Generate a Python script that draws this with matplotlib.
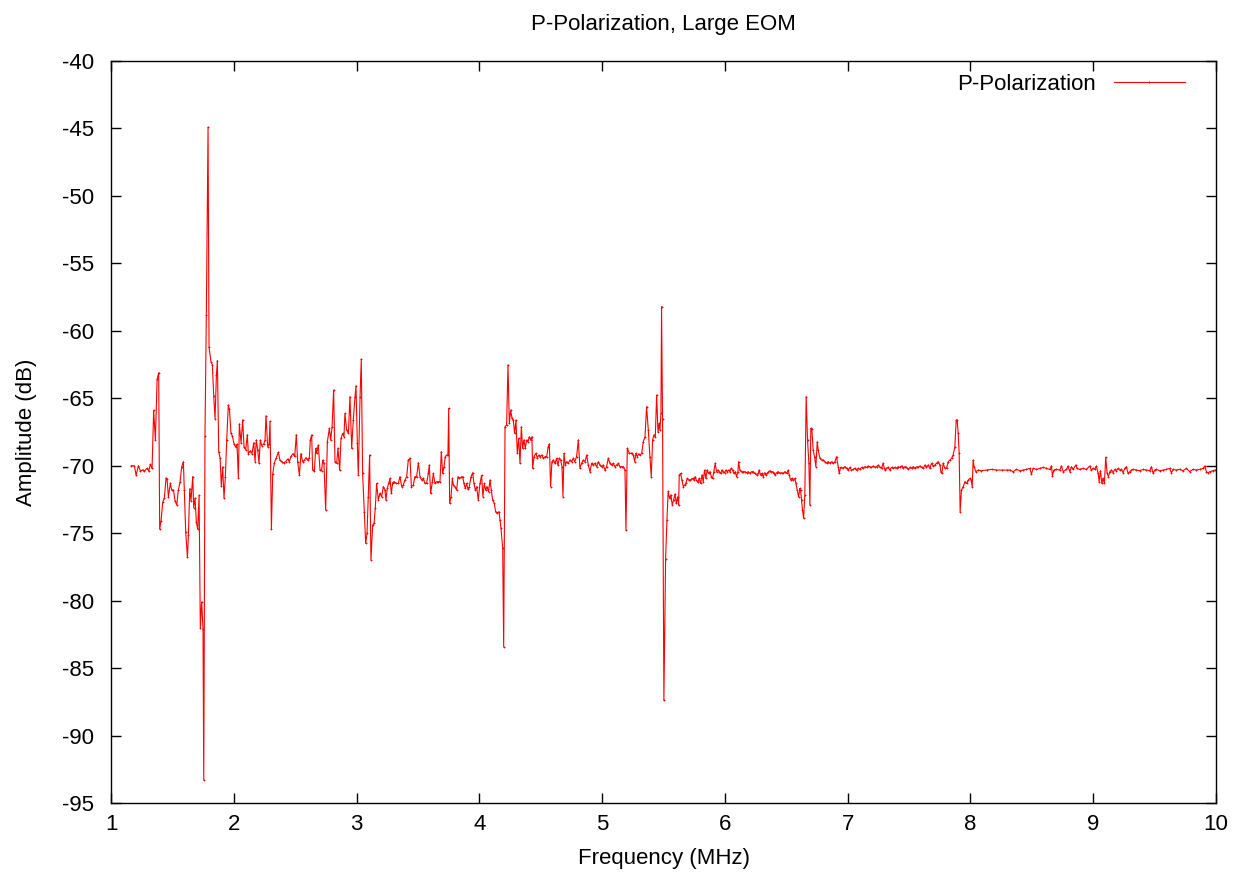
import matplotlib
matplotlib.use('Agg')
import matplotlib.pyplot as plt

plt.rcParams['font.family'] = ['Liberation Sans', 'DejaVu Sans']
plt.rcParams['axes.unicode_minus'] = False

# frequency (MHz), amplitude (dB)
freq_a = [1.163, 1.190, 1.204, 1.223, 1.239, 1.258, 1.271, 1.293, 1.307, 1.320, 1.334, 1.347, 1.361, 1.375, 1.388,
          1.396, 1.407, 1.421, 1.434, 1.448, 1.456, 1.467, 1.483, 1.494, 1.508, 1.521, 1.535, 1.548, 1.562, 1.575,
          1.589, 1.597, 1.608, 1.622, 1.630, 1.641, 1.651, 1.665, 1.673, 1.684, 1.695, 1.706, 1.717, 1.727, 1.738,
          1.749, 1.755, 1.765, 1.776, 1.790, 1.798, 1.814, 1.825, 1.836, 1.847, 1.858, 1.866, 1.877, 1.888, 1.898,
          1.909, 1.920, 1.931, 1.942, 1.955, 1.964, 1.977, 1.988, 2.002, 2.015, 2.026, 2.037, 2.045, 2.059, 2.072,
          2.083, 2.097, 2.110, 2.118, 2.135, 2.148, 2.162, 2.173, 2.183, 2.194, 2.205, 2.216, 2.227, 2.243, 2.254,
          2.262, 2.276, 2.287, 2.295, 2.306, 2.317, 2.330, 2.346, 2.363, 2.376, 2.390, 2.406, 2.422, 2.439, 2.452,
          2.466, 2.482, 2.496, 2.509, 2.520, 2.534, 2.547, 2.561, 2.574, 2.588, 2.602, 2.615, 2.623]
amp_a = [-70.0, -70.0, -70.7, -70.0, -70.4, -70.3, -70.4, -70.2, -70.4, -69.9, -70.2, -65.9, -68.1, -63.6, -63.1,
         -74.7, -74.1, -72.7, -72.4, -70.9, -71.0, -72.3, -71.3, -71.8, -71.8, -72.6, -72.9, -71.8, -71.2, -70.1,
         -69.7, -71.8, -74.9, -76.8, -75.1, -71.7, -72.6, -70.8, -73.1, -72.4, -74.2, -74.7, -72.2, -82.0, -80.1,
         -82.1, -93.3, -67.8, -58.8, -44.9, -61.2, -62.3, -62.5, -64.8, -66.5, -63.3, -62.2, -69.0, -69.4, -71.5,
         -70.1, -72.4, -70.8, -68.1, -65.5, -65.8, -67.6, -67.8, -68.4, -68.6, -68.4, -70.9, -66.9, -68.3, -66.6,
         -68.6, -68.8, -67.7, -69.1, -68.9, -69.1, -68.3, -69.7, -68.1, -68.8, -69.8, -68.1, -68.5, -68.4, -68.1,
         -66.3, -68.6, -68.4, -66.7, -74.7, -70.6, -69.8, -69.4, -69.0, -69.6, -69.7, -69.8, -69.7, -69.5, -69.7,
         -69.3, -69.1, -69.3, -67.7, -69.7, -70.7, -69.1, -69.7, -69.6, -69.4, -69.6, -69.4, -68.1]

freq_b = [2.634, 2.642, 2.656, 2.667, 2.675, 2.688, 2.702, 2.715, 2.724, 2.734, 2.748, 2.762, 2.778, 2.789, 2.800,
          2.813, 2.824, 2.838, 2.848, 2.862, 2.873, 2.886, 2.897, 2.905, 2.919, 2.933, 2.946, 2.960, 2.973, 2.987,
          2.995, 3.006, 3.014, 3.028, 3.038, 3.049, 3.063, 3.074, 3.085, 3.095, 3.106, 3.117, 3.131, 3.142, 3.152,
          3.163, 3.177, 3.190, 3.204, 3.218, 3.231, 3.239, 3.250, 3.261, 3.272, 3.283, 3.294, 3.304, 3.321, 3.340,
          3.353, 3.367, 3.380, 3.394, 3.408, 3.421, 3.435, 3.446, 3.462, 3.475, 3.489, 3.503, 3.516, 3.530, 3.543,
          3.557, 3.570, 3.584, 3.592, 3.603, 3.617, 3.625, 3.638, 3.652, 3.666, 3.679, 3.690, 3.701, 3.712, 3.722,
          3.733, 3.744, 3.750, 3.758, 3.769, 3.780, 3.788, 3.801, 3.815, 3.826, 3.836, 3.850, 3.864, 3.874, 3.885,
          3.896, 3.907, 3.918, 3.932, 3.945, 3.956, 3.967, 3.978, 3.991, 4.005, 4.018, 4.029, 4.040, 4.051, 4.062,
          4.075, 4.086, 4.097, 4.108, 4.122, 4.132, 4.146, 4.160, 4.168]
amp_b = [-67.72, -70.32, -70.37, -68.71, -69.08, -68.46, -70.32, -70.37, -69.58, -69.82, -73.28, -68.22, -67.23,
         -68.09, -67.11, -64.39, -69.70, -69.82, -68.71, -70.32, -67.97, -67.60, -67.85, -66.12, -67.35, -67.60,
         -64.88, -68.71, -66.61, -64.88, -64.09, -68.34, -70.69, -64.88, -62.11, -70.57, -73.41, -75.75, -75.01,
         -72.29, -69.21, -76.99, -74.40, -74.27, -73.16, -71.31, -72.54, -72.05, -72.29, -71.55, -71.80, -72.54,
         -71.68, -71.31, -70.94, -72.05, -71.26, -71.18, -71.31, -71.31, -70.81, -71.55, -71.43, -71.06, -70.81,
         -69.58, -69.45, -71.55, -71.43, -70.81, -70.81, -69.77, -70.81, -71.06, -70.94, -71.31, -71.31, -70.57,
         -69.95, -72.05, -71.18, -70.57, -71.31, -71.18, -71.18, -71.18, -68.96, -70.57, -70.07, -69.33, -69.21,
         -69.21, -65.75, -72.79, -72.29, -70.94, -71.43, -71.55, -71.80, -70.81, -70.94, -70.86, -70.81, -71.31,
         -71.68, -71.31, -71.75, -71.55, -70.81, -70.52, -71.31, -71.80, -71.55, -72.54, -71.31, -70.71, -72.29,
         -71.31, -71.80, -71.55, -71.92, -71.06, -71.80, -72.54, -72.79, -73.41, -73.48, -73.41, -74.02]

freq_c = [4.176, 4.190, 4.198, 4.209, 4.222, 4.233, 4.244, 4.255, 4.266, 4.276, 4.287, 4.298, 4.309, 4.320, 4.331,
          4.342, 4.352, 4.363, 4.374, 4.385, 4.396, 4.407, 4.418, 4.428, 4.434, 4.445, 4.461, 4.472, 4.483, 4.494,
          4.507, 4.521, 4.534, 4.548, 4.561, 4.570, 4.580, 4.591, 4.602, 4.616, 4.629, 4.640, 4.651, 4.662, 4.673,
          4.681, 4.689, 4.700, 4.711, 4.724, 4.738, 4.751, 4.765, 4.776, 4.792, 4.806, 4.819, 4.833, 4.846, 4.860,
          4.874, 4.887, 4.901, 4.914, 4.928, 4.941, 4.955, 4.969, 4.982, 4.996, 5.009, 5.023, 5.036, 5.050, 5.064,
          5.077, 5.091, 5.104, 5.118, 5.132, 5.145, 5.159, 5.172, 5.186, 5.194, 5.205, 5.221, 5.232, 5.243, 5.254,
          5.265, 5.275, 5.286, 5.297, 5.308, 5.322, 5.335, 5.349, 5.362, 5.376, 5.389, 5.400, 5.411, 5.422, 5.433,
          5.444, 5.455, 5.465, 5.471, 5.479, 5.484, 5.492, 5.503, 5.517, 5.528, 5.538]
amp_c = [-74.64, -76.12, -83.41, -67.11, -66.98, -62.53, -66.86, -65.87, -66.49, -66.61, -67.60, -66.61, -69.08,
         -67.97, -69.82, -67.11, -68.71, -68.09, -68.71, -68.09, -68.22, -67.85, -68.09, -67.85, -70.19, -69.33,
         -69.08, -69.45, -69.21, -69.33, -69.21, -69.45, -69.33, -69.33, -68.59, -68.39, -71.55, -69.70, -69.58,
         -69.82, -69.45, -69.95, -69.45, -69.58, -70.07, -72.29, -69.08, -69.95, -69.70, -69.82, -69.58, -69.70,
         -69.45, -69.70, -69.33, -68.09, -70.19, -69.82, -69.58, -69.70, -69.21, -69.95, -70.44, -69.82, -69.95,
         -69.82, -70.07, -69.70, -69.95, -70.07, -69.95, -70.32, -70.07, -69.45, -69.82, -69.95, -69.82, -70.07,
         -69.95, -69.82, -70.07, -70.07, -70.07, -70.32, -74.77, -68.71, -69.08, -69.08, -69.08, -69.21, -69.70,
         -69.08, -69.33, -69.13, -69.21, -69.08, -68.22, -67.85, -65.62, -67.35, -69.33, -70.81, -68.09, -67.72,
         -67.85, -64.76, -67.48, -66.86, -67.35, -66.12, -58.2, -66.5, -87.4, -76.9, -74.0, -71.9]

freq_d = [5.549, 5.560, 5.571, 5.582, 5.593, 5.604, 5.614, 5.623, 5.628, 5.639, 5.650, 5.661, 5.671, 5.682, 5.693,
          5.704, 5.715, 5.726, 5.737, 5.747, 5.758, 5.769, 5.780, 5.791, 5.802, 5.813, 5.823, 5.834, 5.845, 5.856,
          5.867, 5.878, 5.889, 5.899, 5.910, 5.921, 5.932, 5.943, 5.954, 5.965, 5.975, 5.986, 5.997, 6.008, 6.019,
          6.030, 6.041, 6.051, 6.062, 6.073, 6.084, 6.095, 6.106, 6.111, 6.122, 6.136, 6.149, 6.163, 6.176, 6.190,
          6.203, 6.217, 6.231, 6.244, 6.258, 6.271, 6.279, 6.290, 6.301, 6.312, 6.323, 6.334, 6.345, 6.355, 6.366,
          6.377, 6.388, 6.399, 6.410, 6.421, 6.434, 6.448, 6.461, 6.475, 6.489, 6.502, 6.516, 6.524, 6.535, 6.545,
          6.556, 6.570, 6.578, 6.589, 6.600, 6.611]
amp_d = [-72.42, -72.17, -72.91, -72.54, -72.10, -72.79, -72.30, -72.91, -70.69, -70.57, -71.06, -71.55, -71.43,
         -71.31, -70.94, -71.06, -71.06, -71.01, -70.94, -71.06, -70.81, -71.11, -71.18, -70.94, -71.31, -70.69,
         -71.18, -70.32, -70.94, -70.32, -70.57, -70.44, -70.81, -70.94, -70.44, -69.82, -70.44, -70.32, -70.44,
         -70.57, -70.32, -70.44, -70.52, -70.32, -70.44, -70.32, -70.44, -70.20, -70.32, -70.57, -70.44, -70.81,
         -70.44, -69.70, -70.32, -70.44, -70.44, -70.44, -70.52, -70.44, -70.57, -70.44, -70.44, -70.57, -70.69,
         -70.57, -70.32, -70.69, -70.57, -70.81, -70.52, -70.69, -70.57, -70.44, -70.37, -70.44, -70.44, -70.57,
         -70.69, -70.52, -70.44, -70.57, -70.52, -70.57, -70.44, -70.57, -70.32, -70.69, -71.06, -70.94, -71.06,
         -70.94, -71.31, -71.80, -72.30, -71.68]

freq_e = [6.616, 6.624, 6.632, 6.641, 6.651, 6.662, 6.673, 6.684, 6.692, 6.700, 6.708, 6.719, 6.730, 6.741, 6.752,
          6.760, 6.774, 6.787, 6.801, 6.814, 6.828, 6.841, 6.855, 6.869, 6.882, 6.896, 6.909, 6.923, 6.931, 6.942,
          6.958, 6.977, 6.991, 7.004, 7.018, 7.031, 7.045, 7.059, 7.072, 7.086, 7.099, 7.113, 7.126, 7.140, 7.154,
          7.167, 7.181, 7.194, 7.208, 7.221, 7.235, 7.249, 7.262, 7.276, 7.289, 7.303, 7.316, 7.330, 7.344, 7.357,
          7.371, 7.384, 7.398, 7.412, 7.425, 7.439, 7.452, 7.466, 7.479, 7.493, 7.507, 7.520, 7.534, 7.547, 7.561,
          7.574, 7.588, 7.602, 7.615, 7.629, 7.642, 7.656, 7.669, 7.683, 7.697, 7.710, 7.724, 7.737, 7.751, 7.759,
          7.767, 7.778, 7.792, 7.805, 7.819, 7.832, 7.846, 7.859, 7.873, 7.884, 7.892, 7.900, 7.908, 7.916, 7.927,
          7.941, 7.955, 7.968, 7.982, 7.995, 8.006, 8.014, 8.022, 8.030, 8.044, 8.063, 8.090, 8.131, 8.172, 8.212,
          8.253, 8.294, 8.321]
amp_e = [-71.80, -72.54, -73.28, -73.90, -72.17, -64.88, -68.09, -69.82, -72.91, -67.23, -67.30, -68.84, -69.33,
         -70.07, -68.22, -68.84, -69.45, -69.58, -69.58, -69.70, -69.82, -69.70, -69.82, -69.70, -69.82, -69.70,
         -69.33, -70.07, -70.57, -70.12, -70.19, -70.07, -70.19, -70.32, -70.12, -70.32, -70.27, -70.19, -70.32,
         -70.19, -70.27, -70.12, -70.19, -70.07, -70.12, -70.02, -70.07, -70.12, -70.02, -70.12, -70.07, -69.95,
         -70.12, -70.19, -69.82, -70.32, -70.19, -70.12, -70.32, -70.12, -70.19, -70.12, -70.19, -70.07, -70.12,
         -70.02, -70.19, -70.07, -70.12, -70.27, -70.12, -70.19, -70.07, -70.19, -70.07, -70.12, -70.02, -70.12,
         -70.19, -69.95, -70.12, -69.95, -70.19, -69.82, -70.02, -69.95, -69.82, -69.70, -69.95, -70.44, -70.57,
         -69.82, -70.19, -70.19, -69.70, -69.58, -69.45, -69.21, -68.59, -66.61, -66.61, -67.60, -69.08, -73.41,
         -71.80, -71.55, -71.18, -71.31, -71.06, -70.94, -71.06, -71.55, -69.58, -70.07, -70.44, -70.32, -70.37,
         -70.32, -70.27, -70.32, -70.32, -70.32, -70.32]

freq_f = [8.348, 8.375, 8.402, 8.429, 8.456, 8.483, 8.497, 8.510, 8.538, 8.565, 8.592, 8.619, 8.646, 8.660, 8.668,
          8.679, 8.700, 8.728, 8.741, 8.755, 8.782, 8.795, 8.809, 8.823, 8.836, 8.858, 8.869, 8.890, 8.918, 8.945,
          8.972, 8.985, 8.999, 9.013, 9.026, 9.040, 9.048, 9.059, 9.070, 9.080, 9.091, 9.102, 9.113, 9.124, 9.135,
          9.148, 9.162, 9.175, 9.189, 9.203, 9.216, 9.230, 9.243, 9.257, 9.270, 9.284, 9.298, 9.311, 9.325, 9.352,
          9.379, 9.406, 9.433, 9.461, 9.474, 9.488, 9.501, 9.515, 9.542, 9.569, 9.596, 9.623, 9.637, 9.651, 9.678,
          9.705, 9.732, 9.759, 9.786, 9.813, 9.841, 9.868, 9.895, 9.908, 9.922, 9.936, 9.949, 9.976, 9.990]
amp_f = [-70.44, -70.27, -70.37, -70.32, -70.27, -70.20, -70.62, -70.20, -70.27, -70.20, -70.12, -70.20, -70.27,
         -70.02, -70.76, -70.32, -70.27, -70.32, -70.02, -70.44, -70.27, -70.02, -70.44, -70.07, -70.27, -69.95,
         -70.20, -70.27, -70.20, -70.27, -70.02, -70.32, -70.20, -70.27, -70.02, -70.57, -71.18, -70.37, -71.31,
         -70.94, -71.31, -69.38, -70.57, -70.81, -70.44, -70.32, -70.52, -70.27, -70.37, -70.20, -70.32, -70.27,
         -70.52, -70.20, -70.07, -70.57, -70.44, -70.32, -70.27, -70.32, -70.37, -70.27, -70.32, -70.37, -70.07,
         -70.57, -70.32, -70.27, -70.37, -70.32, -70.27, -70.20, -70.52, -70.27, -70.32, -70.27, -70.37, -70.20,
         -70.44, -70.27, -70.32, -70.27, -70.20, -70.02, -70.44, -70.52, -70.44, -70.37, -70.32]

freq = freq_a + freq_b + freq_c + freq_d + freq_e + freq_f
amp = amp_a + amp_b + amp_c + amp_d + amp_e + amp_f

fs = 16

fig = plt.figure(figsize=(12.34, 8.77), dpi=100)
ax = fig.add_axes([0.0900, 0.0844, 0.8954, 0.8460])

ax.plot(freq, amp, color='red', lw=0.8, marker='+', markersize=1.5, markeredgewidth=0.6,
        label='P-Polarization')

ax.set_xlim(1, 10)
ax.set_ylim(-95, -40)
ax.set_xticks(range(1, 11))
ax.set_yticks(range(-95, -39, 5))
ax.tick_params(direction='in', length=7, width=1, top=True, right=True, labelsize=fs)
ax.tick_params(axis='y', pad=12)
ax.tick_params(axis='x', pad=8)
for s in ax.spines.values():
    s.set_linewidth(1)

ax.set_title('P-Polarization, Large EOM', fontsize=fs, pad=22)
ax.set_xlabel('Frequency (MHz)', fontsize=fs, labelpad=9)
ax.set_ylabel('Amplitude (dB)', fontsize=fs, labelpad=18)

ax.legend(loc='center right', bbox_to_anchor=(0.972, 0.969), frameon=False, fontsize=fs,
          markerfirst=False, numpoints=1, handlelength=3.2, handletextpad=0.8,
          borderpad=0, borderaxespad=0)

fig.savefig('out.png', dpi=100, facecolor='white')
